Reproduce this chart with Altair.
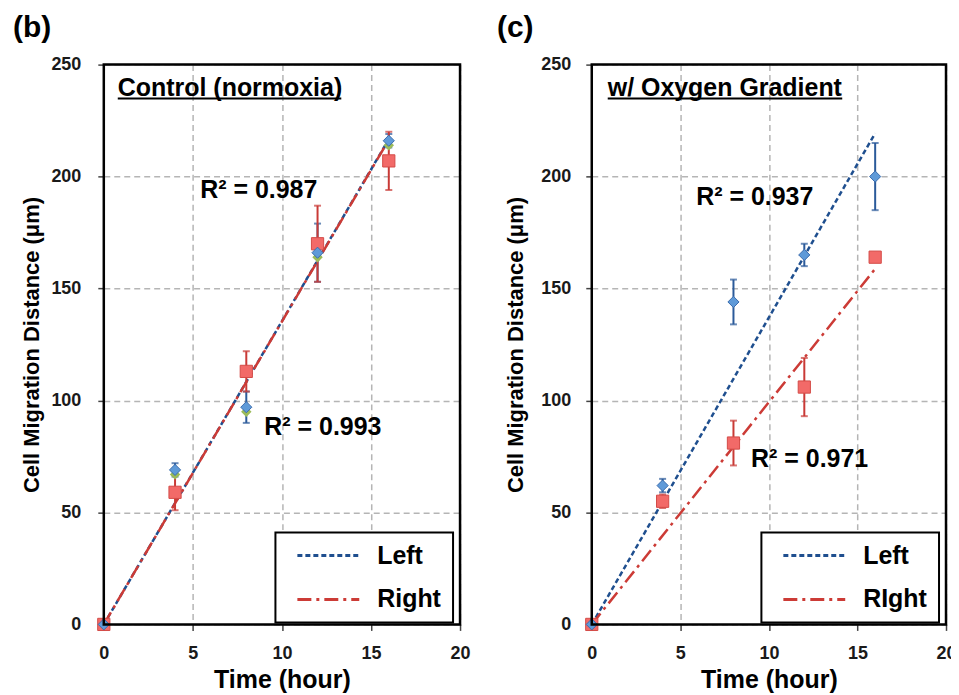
import altair as alt
import pandas as pd

# ---------------- data ----------------
time_h = [0, 4, 8, 12, 16]

# (b) Control (normoxia)
b_left = [0, 69, 97, 166, 216]
b_left_err = [0, 3, 7, 13, 3]
b_hidden = [0, 67, 95, 164, 214]
b_right = [0, 59, 113, 170, 207]
b_right_err = [0, 8, 9, 17, 13]

# (c) w/ Oxygen Gradient
c_left = [0, 62, 144, 165, 200]
c_left_err = [0, 3, 10, 5, 15]
c_right = [0, 55, 81, 106, 164]
c_right_err = [0, 3, 10, 13, 1]

b_r2_text = ["R² = 0.987", "R² = 0.993"]
b_r2_time = [8.7, 12.3]
b_r2_val = [194, 88]
c_r2_text = ["R² = 0.937", "R² = 0.971"]
c_r2_time = [9.2, 12.3]
c_r2_val = [191, 74]

b_legend = ["Left", "Right"]
c_legend = ["Left", "RIght"]
panel_tags = ["(b)", "(c)"]
panel_titles = ["Control (normoxia)", "w/ Oxygen Gradient"]

x_ticks = [0, 5, 10, 15, 20]
y_ticks = [0, 50, 100, 150, 200, 250]

FONT = "Liberation Sans"
BLUE_LINE = "#1f4f8f"
BLUE_FILL = "#5f9ad8"
BLUE_EDGE = "#3b6cae"
BLUE_ERR = "#2b5a9a"
RED_LINE = "#cc3b36"
RED_FILL = "#f26a68"
RED_EDGE = "#d44b47"
RED_ERR = "#c93a36"
GREEN_FILL = "#9bbb59"


def fit_line(values):
    s = sum(t * v for t, v in zip(time_h, values)) / sum(t * t for t in time_h)
    return pd.DataFrame({"time": [time_h[0], time_h[-1]],
                         "value": [s * time_h[0], s * time_h[-1]]})


def panel(W, H, lv, le, hv, rv, re, r2_text, r2_t, r2_v, legend_labels,
          tag, tag_x, title, title_x, ul_w, leg_x0, y_lab_pad, y_title_pad):
    xs = alt.Scale(domain=[0, 20], nice=False)
    ys = alt.Scale(domain=[0, 250], nice=False)

    ax_x = alt.Axis(values=x_ticks, title="Time (hour)", grid=True,
                    gridDash=[6, 4], gridColor="#b5b5b5", gridWidth=1.5,
                    domain=False, ticks=True, tickSize=6, tickColor="#444",
                    tickWidth=1.5, labelFont=FONT, labelFontSize=18,
                    labelFontWeight="bold", labelColor="#1a1a1a",
                    labelFlush=False, labelPadding=14, titleFont=FONT,
                    titleFontSize=25, titleFontWeight="bold",
                    titleColor="#000", titlePadding=5)
    ax_y = alt.Axis(values=y_ticks, title="Cell Migration Distance (μm)",
                    grid=True, gridDash=[6, 4], gridColor="#b5b5b5",
                    gridWidth=1.5, domain=False, ticks=True, tickSize=6,
                    tickColor="#444", tickWidth=1.5, labelFont=FONT,
                    labelFontSize=18, labelFontWeight="bold",
                    labelColor="#1a1a1a", labelPadding=y_lab_pad,
                    titleFont=FONT, titleFontSize=22, titleFontWeight="bold",
                    titleColor="#000", titlePadding=y_title_pad)

    def X():
        return alt.X("time:Q", scale=xs, axis=ax_x)

    def Y(f="value"):
        return alt.Y(f + ":Q", scale=ys, axis=ax_y)

    left_df = pd.DataFrame({"time": time_h, "value": lv, "err": le})
    right_df = pd.DataFrame({"time": time_h, "value": rv, "err": re})

    trend_l = alt.Chart(fit_line(lv)).mark_line(
        color=BLUE_LINE, strokeWidth=2.5, strokeDash=[5, 3]
    ).encode(x=X(), y=Y())
    trend_r = alt.Chart(fit_line(rv)).mark_line(
        color=RED_LINE, strokeWidth=2.5, strokeDash=[14, 5, 3, 5]
    ).encode(x=X(), y=Y())

    def errbars(df, color):
        base = alt.Chart(df).transform_calculate(
            lo="datum.value - datum.err", hi="datum.value + datum.err"
        ).transform_filter("datum.err > 0")
        r = base.mark_rule(color=color, strokeWidth=2).encode(
            x=X(), y=Y("lo"), y2="hi:Q")
        c1 = base.mark_tick(orient="horizontal", color=color, size=7,
                            thickness=2).encode(x=X(), y=Y("lo"))
        c2 = base.mark_tick(orient="horizontal", color=color, size=7,
                            thickness=2).encode(x=X(), y=Y("hi"))
        return [r, c1, c2]

    pts = []
    if hv is not None:
        hid_df = pd.DataFrame({"time": time_h, "value": hv})
        pts.append(alt.Chart(hid_df).mark_point(
            shape="diamond", filled=True, fill=GREEN_FILL, opacity=1,
            size=110, strokeWidth=0).encode(x=X(), y=Y()))
    red_pts = alt.Chart(right_df).mark_point(
        shape="square", filled=True, fill=RED_FILL, stroke=RED_EDGE,
        strokeWidth=1, opacity=1, size=150).encode(x=X(), y=Y())
    blue_pts = alt.Chart(left_df).mark_point(
        shape="diamond", filled=True, fill=BLUE_FILL, stroke=BLUE_EDGE,
        strokeWidth=1, opacity=1, size=125).encode(x=X(), y=Y())
    pts += [red_pts, blue_pts]

    r2_df = pd.DataFrame({"time": r2_t, "value": r2_v, "label": r2_text})
    r2 = alt.Chart(r2_df).mark_text(
        font=FONT, fontSize=25, fontWeight="bold", color="#000",
        align="center", baseline="middle"
    ).encode(x=X(), y=Y(), text="label:N")

    one = pd.DataFrame({"label": [title]})
    ttl = alt.Chart(one).mark_text(
        font=FONT, fontSize=25, fontWeight="bold", color="#000",
        align="left", baseline="alphabetic"
    ).encode(x=alt.value(title_x), y=alt.value(31), text="label:N")
    underline = alt.Chart(one).mark_rule(color="#000", strokeWidth=2).encode(
        x=alt.value(title_x), x2=alt.value(title_x + ul_w), y=alt.value(34))

    tag_df = pd.DataFrame({"label": [tag]})
    tag_txt = alt.Chart(tag_df).mark_text(
        font=FONT, fontSize=30, fontWeight="bold", color="#000",
        align="left", baseline="top"
    ).encode(x=alt.value(tag_x), y=alt.value(-52), text="label:N")

    leg_df = pd.DataFrame({"label": legend_labels})
    leg_box = alt.Chart(tag_df).mark_rect(
        fill="white", stroke="#000", strokeWidth=2
    ).encode(x=alt.value(leg_x0), x2=alt.value(leg_x0 + 178),
             y=alt.value(469), y2=alt.value(559))
    leg_l = alt.Chart(leg_df).transform_filter(
        alt.datum.label == legend_labels[0]
    ).mark_rule(color=BLUE_LINE, strokeWidth=3, strokeDash=[5, 3]).encode(
        x=alt.value(leg_x0 + 22), x2=alt.value(leg_x0 + 84), y=alt.value(492))
    leg_r = alt.Chart(leg_df).transform_filter(
        alt.datum.label == legend_labels[1]
    ).mark_rule(color=RED_LINE, strokeWidth=3, strokeDash=[14, 5, 3, 5]).encode(
        x=alt.value(leg_x0 + 22), x2=alt.value(leg_x0 + 84), y=alt.value(536))
    leg_t1 = alt.Chart(leg_df).transform_filter(
        alt.datum.label == legend_labels[0]
    ).mark_text(font=FONT, fontSize=25, fontWeight="bold", color="#000",
                align="left", baseline="middle").encode(
        x=alt.value(leg_x0 + 102), y=alt.value(492), text="label:N")
    leg_t2 = alt.Chart(leg_df).transform_filter(
        alt.datum.label == legend_labels[1]
    ).mark_text(font=FONT, fontSize=25, fontWeight="bold", color="#000",
                align="left", baseline="middle").encode(
        x=alt.value(leg_x0 + 102), y=alt.value(536), text="label:N")

    frame = alt.Chart(tag_df).mark_rect(
        fillOpacity=0, stroke="#000", strokeWidth=2.5
    ).encode(x=alt.value(0), x2=alt.value(W), y=alt.value(0), y2=alt.value(H))

    layers = [trend_l, trend_r] + errbars(left_df, BLUE_ERR) + \
        errbars(right_df, RED_ERR) + pts + [r2, ttl, underline, leg_box,
                                            leg_l, leg_r, leg_t1, leg_t2,
                                            frame, tag_txt]
    return alt.layer(*layers).properties(width=W, height=H)


left_panel = panel(357, 561, b_left, b_left_err, b_hidden, b_right,
                   b_right_err, b_r2_text, b_r2_time, b_r2_val, b_legend,
                   panel_tags[0], -91, panel_titles[0], 14, 224, 172, 17, 7)
right_panel = panel(355, 561, c_left, c_left_err, None, c_right,
                    c_right_err, c_r2_text, c_r2_time, c_r2_val, c_legend,
                    panel_tags[1], -95, panel_titles[1], 16, 235, 170, 15, 13)

chart = alt.hconcat(left_panel, right_panel, spacing=25).properties(
    padding={"left": 4, "top": 3, "right": -6, "bottom": 0}
).configure_view(stroke=None).configure(background="white")

chart.save("out.html", embed_options={"renderer": "svg", "actions": False})
